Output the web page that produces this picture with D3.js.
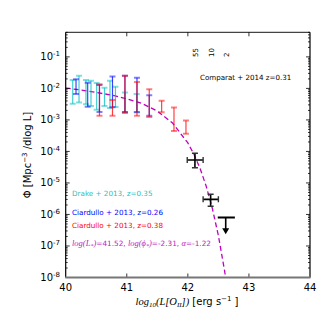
<!DOCTYPE html>
<html>
<head>
<meta charset="UTF-8">
<script src="https://d3js.org/d3.v7.min.js"></script>
<style>
  body { margin: 0; background: #fff; }
  text { font-family: "DejaVu Sans", sans-serif; }
  .math { font-family: "Liberation Serif", serif; font-style: italic; }
</style>
</head>
<body>
<svg width="327" height="327"></svg>
<script>
// log10(L) bins and log10(Phi) error bar ends
var drakeL  = [40.115, 40.218, 40.332, 40.414, 40.507, 40.635, 40.725, 40.815, 40.97, 41.162];
var drakeHi = [-1.73, -1.60, -1.73, -1.76, -1.83, -1.98, -1.76, -1.95, -2.13, -2.18];
var drakeLo = [-2.49, -2.45, -2.50, -2.56, -2.68, -2.56, -2.62, -2.59, -2.76, -2.75];

var ciar26L  = [40.169, 40.36, 40.553, 40.766, 40.97, 41.167, 41.368];
var ciar26Hi = [-1.71, -1.82, -1.89, -1.62, -1.60, -1.66, -2.22];
var ciar26Lo = [-2.18, -2.58, -2.75, -2.60, -2.75, -2.76, -2.87];

var ciar38L  = [40.553, 40.766, 40.97, 41.167, 41.368, 41.571, 41.773, 41.969];
var ciar38Hi = [-1.87, -2.37, -1.60, -1.80, -2.03, -2.39, -2.61, -3.02];
var ciar38Lo = [-2.87, -2.87, -2.78, -2.87, -2.91, -2.76, -3.35, -3.44];

// Comparat + 2014
var compL    = [42.116, 42.373];
var compLmin = [41.99, 42.25];
var compLmax = [42.25, 42.50];
var compPhi  = [-4.27, -5.52];
var compLo   = [-4.52, -5.74];
var compHi   = [-4.06, -5.36];
var compCounts = ["55", "10", "2"];
var compCountL = [42.116, 42.373, 42.62];
var limL = 42.62, limLmin = 42.49, limLmax = 42.77, limPhi = -6.10, limTip = -6.63;

// dashed model curve
var curveL   = [40.0, 40.25, 40.5, 40.75, 41.0, 41.25, 41.5, 41.75, 42.0, 42.1, 42.2, 42.3, 42.4, 42.5, 42.6, 42.65];
var curvePhi = [-1.99, -2.05, -2.13, -2.21, -2.33, -2.48, -2.72, -3.10, -3.73, -4.09, -4.54, -5.10, -5.80, -6.67, -7.77, -8.42];

var xTicks = [40, 41, 42, 43, 44];
var yMajor = [-8, -7, -6, -5, -4, -3, -2, -1];

var svg = d3.select("svg");
var pL = 65.7, pR = 310, pT = 32.3, pB = 277.5;

var x = d3.scaleLinear().domain([40, 44]).range([pL, pR]);
var y = d3.scaleLog().domain([1e-8, Math.pow(10, -0.22)]).range([pB, pT]);
function yl(v) { return y(Math.pow(10, v)); }

svg.append("clipPath").attr("id", "clip").append("rect")
  .attr("x", pL).attr("y", pT).attr("width", pR - pL).attr("height", pB - pT);

var plot = svg.append("g").attr("clip-path", "url(#clip)");

// model curve
var line = d3.line().x(function(d, i) { return x(curveL[i]); }).y(function(d) { return yl(d); });
plot.append("path").datum(curvePhi)
  .attr("d", line).attr("fill", "none")
  .attr("stroke", "#bf00bf").attr("stroke-width", 1.3)
  .attr("stroke-dasharray", "5,3");

function errBars(Ls, his, los, color) {
  var g = plot.append("g");
  Ls.forEach(function(L, i) {
    var px = x(L);
    g.append("line").attr("x1", px).attr("x2", px)
      .attr("y1", yl(his[i])).attr("y2", yl(los[i]))
      .attr("stroke", color).attr("stroke-width", 1.2).attr("stroke-opacity", 0.75);
    [his[i], los[i]].forEach(function(v) {
      g.append("line").attr("x1", px - 3).attr("x2", px + 3)
        .attr("y1", yl(v)).attr("y2", yl(v))
        .attr("stroke", color).attr("stroke-width", 2).attr("stroke-opacity", 0.5);
    });
  });
}
errBars(drakeL, drakeHi, drakeLo, "#00bfbf");
errBars(ciar26L, ciar26Hi, ciar26Lo, "#0000ff");
errBars(ciar38L, ciar38Hi, ciar38Lo, "#ff0000");

// Comparat points
compL.forEach(function(L, i) {
  var px = x(L), py = yl(compPhi[i]);
  var g = plot.append("g");
  g.append("line").attr("x1", x(compLmin[i])).attr("x2", x(compLmax[i]))
    .attr("y1", py).attr("y2", py).attr("stroke", "#000").attr("stroke-width", 1.6);
  g.append("line").attr("x1", px).attr("x2", px)
    .attr("y1", yl(compHi[i])).attr("y2", yl(compLo[i])).attr("stroke", "#000").attr("stroke-width", 1.6);
  [compLmin[i], compLmax[i]].forEach(function(v) {
    g.append("line").attr("x1", x(v)).attr("x2", x(v)).attr("y1", py - 3).attr("y2", py + 3)
      .attr("stroke", "#333").attr("stroke-width", 1.4);
  });
  [compHi[i], compLo[i]].forEach(function(v) {
    g.append("line").attr("x1", px - 3).attr("x2", px + 3).attr("y1", yl(v)).attr("y2", yl(v))
      .attr("stroke", "#333").attr("stroke-width", 1.4);
  });
});

// upper limit
var lg = plot.append("g");
lg.append("line").attr("x1", x(limLmin)).attr("x2", x(limLmax))
  .attr("y1", yl(limPhi)).attr("y2", yl(limPhi)).attr("stroke", "#000").attr("stroke-width", 2);
lg.append("line").attr("x1", x(limL)).attr("x2", x(limL))
  .attr("y1", yl(limPhi)).attr("y2", yl(limTip) - 5).attr("stroke", "#000").attr("stroke-width", 1.6);
lg.append("path")
  .attr("d", "M" + (x(limL) - 3.5) + "," + (yl(limTip) - 6) + "L" + (x(limL) + 3.5) + "," + (yl(limTip) - 6) + "L" + x(limL) + "," + yl(limTip) + "Z")
  .attr("fill", "#000");

// counts
compCountL.forEach(function(L, i) {
  svg.append("text")
    .attr("transform", "translate(" + (x(L) + 3) + ",57) rotate(-90)")
    .attr("font-size", 7).attr("fill", "#000")
    .text(compCounts[i]);
});

// frame
svg.append("line").attr("x1", pL).attr("x2", pR).attr("y1", pT).attr("y2", pT)
  .attr("stroke", "#444").attr("stroke-width", 1.2);
svg.append("line").attr("x1", pL).attr("x2", pL).attr("y1", pT).attr("y2", pB)
  .attr("stroke", "#000").attr("stroke-width", 1.2);
svg.append("line").attr("x1", pR).attr("x2", pR).attr("y1", pT).attr("y2", pB)
  .attr("stroke", "#000").attr("stroke-width", 1.2);

// ticks
var tg = svg.append("g").attr("stroke", "#000").attr("stroke-width", 0.8);
xTicks.slice(1, -1).forEach(function(t) {
  tg.append("line").attr("x1", x(t)).attr("x2", x(t)).attr("y1", pB).attr("y2", pB - 4);
  tg.append("line").attr("x1", x(t)).attr("x2", x(t)).attr("y1", pT).attr("y2", pT + 4);
});
yMajor.concat([0]).forEach(function(e) {
  if (e < 0 && e > -8) {
    var py = yl(e);
    tg.append("line").attr("x1", pL).attr("x2", pL + 4).attr("y1", py).attr("y2", py);
    tg.append("line").attr("x1", pR).attr("x2", pR - 4).attr("y1", py).attr("y2", py);
  }
  for (var k = 2; k <= 9; k++) {
    var v = k * Math.pow(10, e - 1);
    var pm = y(v);
    if (pm < pT || pm > pB) continue;
    tg.append("line").attr("x1", pL).attr("x2", pL + 2).attr("y1", pm).attr("y2", pm);
    tg.append("line").attr("x1", pR).attr("x2", pR - 2).attr("y1", pm).attr("y2", pm);
  }
});

svg.append("line").attr("x1", pL - 0.5).attr("x2", pR + 0.5).attr("y1", pB).attr("y2", pB)
  .attr("stroke", "#777").attr("stroke-width", 2);

// tick labels
xTicks.forEach(function(t) {
  svg.append("text").attr("x", x(t)).attr("y", 291)
    .attr("text-anchor", "middle").attr("font-size", 10).text(t);
});
yMajor.forEach(function(e) {
  var t = svg.append("text").attr("x", 60).attr("y", yl(e) + 3.5)
    .attr("text-anchor", "end").attr("font-size", 10);
  t.append("tspan").text("10");
  t.append("tspan").attr("dy", -4).attr("font-size", 7).text("-" + (-e));
});

// axis titles
var xt = svg.append("text").attr("x", 187).attr("y", 305).attr("text-anchor", "middle").attr("font-size", 10);
xt.append("tspan").attr("class", "math").attr("font-size", 10.5).text("log");
xt.append("tspan").attr("class", "math").attr("font-size", 7).attr("dy", 2).text("10");
xt.append("tspan").attr("class", "math").attr("font-size", 10.5).attr("dy", -2).text("(L[O");
xt.append("tspan").attr("class", "math").attr("font-size", 7).attr("dy", 2).text("II");
xt.append("tspan").attr("class", "math").attr("font-size", 10.5).attr("dy", -2).text("])");
xt.append("tspan").text(" [erg s");
xt.append("tspan").attr("font-size", 7).attr("dy", -4).text("−1");
xt.append("tspan").attr("dy", 4).text(" ]");

var yt = svg.append("text").attr("transform", "translate(31,155) rotate(-90)")
  .attr("text-anchor", "middle").attr("font-size", 10);
yt.append("tspan").text("Φ [Mpc");
yt.append("tspan").attr("font-size", 7).attr("dy", -4).text("−3");
yt.append("tspan").attr("dy", 4).text(" /dlog L]");

// annotations
svg.append("text").attr("x", 200).attr("y", 80).attr("font-size", 7.1).text("Comparat + 2014 z=0.31");
svg.append("text").attr("x", 72).attr("y", 196).attr("font-size", 7.2).attr("fill", "#1fbfbf").text("Drake + 2013, z=0.35");
svg.append("text").attr("x", 72).attr("y", 215).attr("font-size", 7.2).attr("fill", "#0000ff").text("Ciardullo + 2013, z=0.26");
svg.append("text").attr("x", 72).attr("y", 227.5).attr("font-size", 7.2).attr("fill", "#ff0000").text("Ciardullo + 2013, z=0.38");

var mt = svg.append("text").attr("x", 72).attr("y", 246).attr("font-size", 7.3).attr("fill", "#c020c0");
mt.append("tspan").attr("class", "math").attr("font-size", 8.5).text("log(L");
mt.append("tspan").attr("class", "math").attr("font-size", 6).attr("dy", 1.5).text("*");
mt.append("tspan").attr("class", "math").attr("font-size", 8.5).attr("dy", -1.5).text(")");
mt.append("tspan").text("=41.52, ");
mt.append("tspan").attr("class", "math").attr("font-size", 8.5).text("log(ϕ");
mt.append("tspan").attr("class", "math").attr("font-size", 6).attr("dy", 1.5).text("*");
mt.append("tspan").attr("class", "math").attr("font-size", 8.5).attr("dy", -1.5).text(")");
mt.append("tspan").text("=-2.31, ");
mt.append("tspan").attr("class", "math").attr("font-size", 8.5).text("α");
mt.append("tspan").text("=-1.22");
</script>
</body>
</html>
